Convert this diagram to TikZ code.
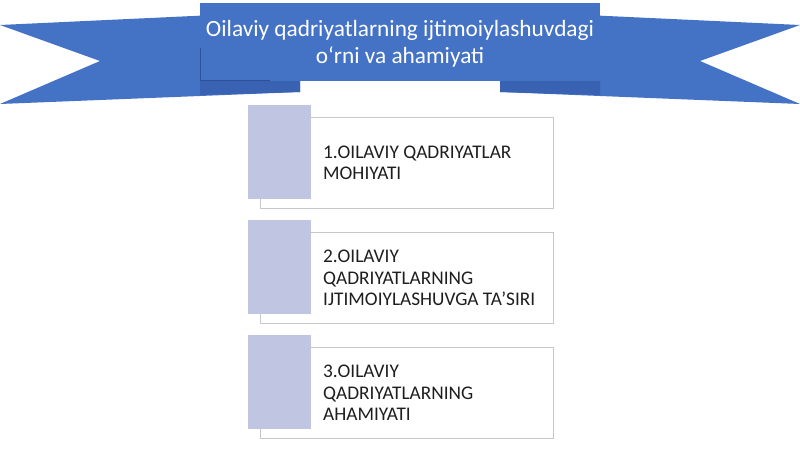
\documentclass[tikz,border=0pt]{standalone}
\usepackage{fontspec}
\setmainfont{Carlito}
\usetikzlibrary{positioning}
\definecolor{ribbonblue}{RGB}{68, 114, 196}
\definecolor{folddark}{RGB}{58, 98, 178}
\definecolor{edgedark}{RGB}{46, 80, 150}
\definecolor{tabcolor}{RGB}{192, 198, 226}
\definecolor{boxline}{RGB}{200, 200, 200}
\definecolor{textdark}{RGB}{30, 30, 30}

\begin{document}
\begin{tikzpicture}[x=1pt, y=-1pt,
    ribbon/.style={fill=ribbonblue},
    fold/.style={fill=folddark},
    banner/.style={text=white, align=center, font=\fontsize{23.3}{26.5}\selectfont},
    card/.style={rectangle, draw=boxline, fill=white, line width=0.8pt, minimum width=293pt, minimum height=91pt, inner sep=0pt, anchor=north west},
    tab/.style={rectangle, fill=tabcolor, minimum width=63pt, minimum height=94pt, inner sep=0pt, anchor=north west},
    cardtext/.style={anchor=west, align=left, inner sep=0pt, text=textdark, font=\fontsize{19.3}{21.5}\selectfont}
]
    \useasboundingbox (0,0) rectangle (800,449);

    % Ribbon tails
    \fill[ribbon] (0,25) -- (300,11) -- (300,92) -- (0,104) -- (100,61) -- cycle;
    \fill[ribbon] (800,25) -- (500,11) -- (500,92) -- (800,104) -- (700,61) -- cycle;
    \fill[fold] (200,81) -- (300,81) -- (300,92) -- (200,95) -- cycle;
    \fill[fold] (600,81) -- (500,81) -- (500,92) -- (600,95) -- cycle;

    % Ribbon band
    \fill[ribbon] (200,3) rectangle (600,81);
    \draw[edgedark, line width=1pt] (200.5,48) -- (200.5,81) -- (270,81);
    \node[banner] (title) at (400,44) {Oilaviy qadriyatlarning ijtimoiylashuvdagi\\o‘rni va ahamiyati};

    % Cards
    \node[card] (c1) at (260,117) {};
    \node[card] (c2) at (260,232) {};
    \node[card] (c3) at (260,347) {};

    \node[tab] (t1) at (248,105) {};
    \node[tab] (t2) at (248,220) {};
    \node[tab] (t3) at (248,335) {};

    \node[cardtext, right=63pt of c1.west] (l1) {1.OILAVIY QADRIYATLAR\\MOHIYATI};
    \node[cardtext, right=63pt of c2.west] (l2) {2.OILAVIY\\QADRIYATLARNING\\IJTIMOIYLASHUVGA TA’SIRI};
    \node[cardtext, right=63pt of c3.west] (l3) {3.OILAVIY\\QADRIYATLARNING\\AHAMIYATI};
\end{tikzpicture}
\end{document}
